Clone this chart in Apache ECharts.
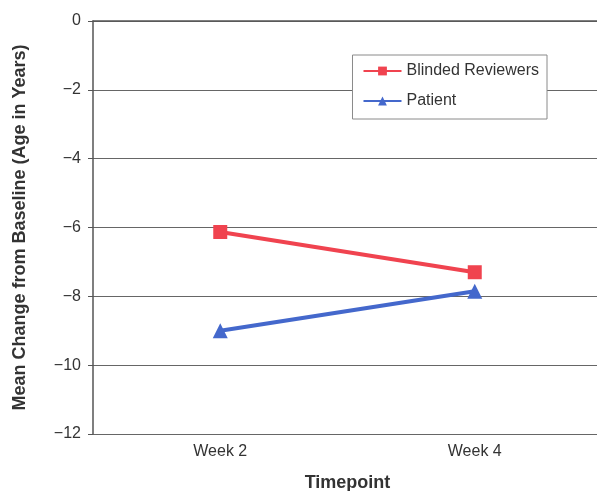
<!DOCTYPE html>
<html>
<head>
<meta charset="utf-8">
<script src="https://cdn.jsdelivr.net/npm/echarts@6/dist/echarts.min.js"></script>
<style>
  html, body { margin: 0; padding: 0; background: #fff; }
  #chart { width: 597px; height: 491px; }
</style>
</head>
<body>
<div id="chart"></div>
<script>
// data
const timepoints = ['Week 2', 'Week 4']
const blindedReviewers = [-6.13, -7.3]
const patient = [-9.0, -7.85]

const textColor = '#333'
const chart = echarts.init(document.getElementById('chart'))

const option = {
    backgroundColor: '#fff',
    textStyle: { fontFamily: 'Liberation Sans, Arial, sans-serif' },
    grid: {
        left: 93,
        right: -5,
        top: 21,
        bottom: 57,
        outerBoundsMode: 'none'
    },
    legend: {
        right: 50,
        top: 55,
        orient: 'vertical',
        backgroundColor: '#fff',
        borderColor: '#8a8a8a',
        borderWidth: 1,
        padding: [8, 8, 10, 10],
        itemGap: 14,
        itemWidth: 38,
        itemHeight: 11,
        textStyle: { color: textColor, fontSize: 16 },
        data: ['Blinded Reviewers', 'Patient']
    },
    xAxis: {
        type: 'category',
        data: timepoints,
        boundaryGap: true,
        name: 'Timepoint',
        nameLocation: 'middle',
        nameGap: 40,
        nameTextStyle: { color: textColor, fontSize: 18, fontWeight: 'bold' },
        axisLine: { show: true, lineStyle: { color: '#555', width: 1.5 } },
        axisTick: { show: false },
        axisLabel: { color: textColor, fontSize: 16, margin: 10 }
    },
    yAxis: {
        type: 'value',
        min: -12,
        max: 0,
        interval: 2,
        name: 'Mean Change from Baseline (Age in Years)',
        nameLocation: 'middle',
        nameGap: 64,
        nameTextStyle: { color: textColor, fontSize: 18, fontWeight: 'bold' },
        axisLine: { show: true, lineStyle: { color: '#555', width: 1.5 } },
        axisTick: { show: true, length: 5, lineStyle: { color: '#555' } },
        axisLabel: {
            color: textColor,
            fontSize: 16,
            margin: 12,
            formatter: v => (v < 0 ? '\u2212' + Math.abs(v) : String(v))
        },
        splitLine: { show: true, lineStyle: { color: '#666', width: 1 } }
    },
    series: [
        {
            name: 'Blinded Reviewers',
            type: 'line',
            data: blindedReviewers,
            symbol: 'rect',
            symbolSize: 14,
            lineStyle: { color: '#f0434f', width: 4 },
            itemStyle: { color: '#f0434f' }
        },
        {
            name: 'Patient',
            type: 'line',
            data: patient,
            symbol: 'triangle',
            symbolSize: 15,
            lineStyle: { color: '#4468cc', width: 4 },
            itemStyle: { color: '#4468cc' }
        }
    ]
}

chart.setOption(option)
</script>
</body>
</html>
